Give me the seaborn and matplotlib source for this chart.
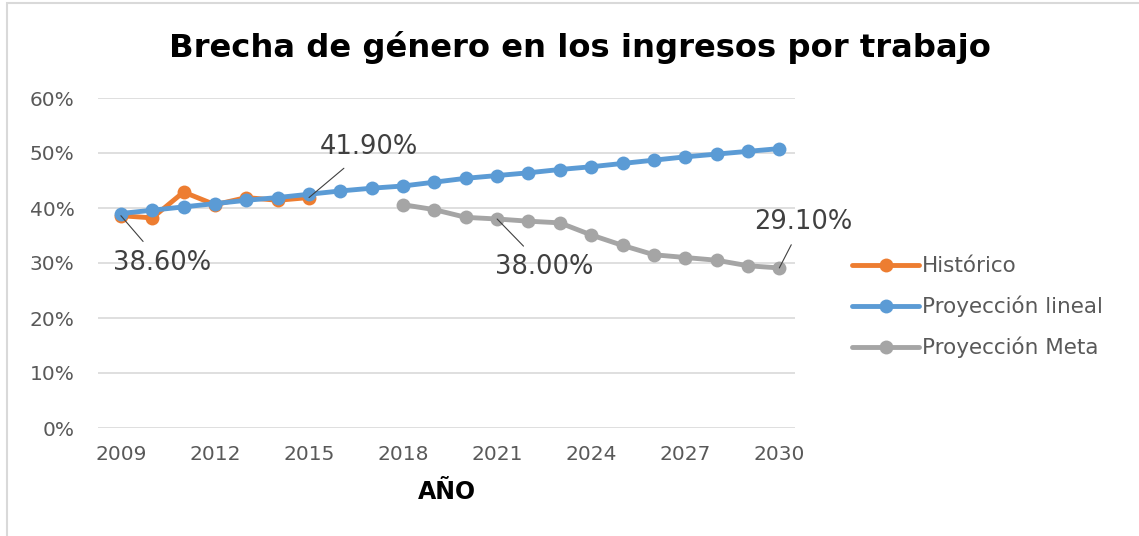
import numpy as np
import pandas as pd
import seaborn as sns
import matplotlib.pyplot as plt
from matplotlib.patches import Rectangle

# data (percent)
years_hist = [2009, 2010, 2011, 2012, 2013, 2014, 2015]
historico = [38.6, 38.2, 42.9, 40.6, 41.9, 41.4, 41.9]

years_lin = list(range(2009, 2031))
proy_lineal = [39.0, 39.6, 40.2, 40.8, 41.4, 41.9, 42.5, 43.1, 43.6, 44.0, 44.7,
               45.4, 45.9, 46.4, 47.0, 47.5, 48.1, 48.7, 49.3, 49.8, 50.3, 50.8]

years_meta = list(range(2018, 2031))
proy_meta = [40.6, 39.7, 38.3, 38.0, 37.6, 37.3, 35.1, 33.2, 31.5, 31.0, 30.5, 29.5, 29.1]

xticks = [2009, 2012, 2015, 2018, 2021, 2024, 2027, 2030]
yticks = [0, 10, 20, 30, 40, 50, 60]

c_hist = '#ED7D31'
c_lin = '#5B9BD5'
c_meta = '#A5A5A5'

sns.set_style('white')
plt.rcParams['font.family'] = ['DejaVu Sans']

fig = plt.figure(figsize=(11.39, 5.36), dpi=100)
ax = fig.add_axes([98 / 1139, 1 - 428 / 536, 697 / 1139, 330 / 536])

df_hist = pd.DataFrame({'year': years_hist, 'val': historico})
df_lin = pd.DataFrame({'year': years_lin, 'val': proy_lineal})
df_meta = pd.DataFrame({'year': years_meta, 'val': proy_meta})

kw = dict(marker='o', markersize=10, markeredgewidth=0, linewidth=3.5, ax=ax)
sns.lineplot(data=df_hist, x='year', y='val', color=c_hist, label='Histórico', **kw)
sns.lineplot(data=df_lin, x='year', y='val', color=c_lin, label='Proyección lineal', **kw)
sns.lineplot(data=df_meta, x='year', y='val', color=c_meta, label='Proyección Meta', **kw)

ax.set_xlim(2008.27, 2030.5)
ax.set_ylim(0, 60)
ax.set_xticks(xticks)
ax.set_yticks(yticks)
ax.set_yticklabels([f'{v}%' for v in yticks])
ax.tick_params(axis='both', length=0, labelsize=14.5, labelcolor='#595959')
ax.tick_params(axis='x', pad=12)
ax.tick_params(axis='y', pad=17)
for s in ax.spines.values():
    s.set_visible(False)
ax.grid(axis='y', color='#D9D9D9', linewidth=1.2)
ax.set_axisbelow(True)
ax.set_ylabel('')
ax.set_xlabel('AÑO', fontsize=17, fontweight='bold', color='black', labelpad=12)

# data labels with leader lines
def label(text, xy, xytext):
    ax.annotate(text, xy=xy, xytext=xytext, fontsize=18.5, color='#404040',
                ha='center', va='center',
                arrowprops=dict(arrowstyle='-', color='#404040', lw=0.8,
                                shrinkA=5, shrinkB=0))

label('38.60%', (2009, 38.6), (2010.3, 30.0))
label('41.90%', (2015, 41.9), (2016.9, 51.0))
label('38.00%', (2021, 38.0), (2022.5, 29.2))
label('29.10%', (2030, 29.1), (2030.75, 37.4))

leg = ax.legend(loc='upper left', bbox_to_anchor=(833 / 1139, 1 - 237 / 536),
                bbox_transform=fig.transFigure, frameon=False, fontsize=15.5,
                labelspacing=0.9, handlelength=3.1, handletextpad=0.15,
                labelcolor='#595959')

fig.text(580 / 1139, 1 - 47 / 536, 'Brecha de género en los ingresos por trabajo',
         ha='center', va='center', fontsize=23.2, fontweight='bold', color='black')

# chart frame
fig.patches.append(Rectangle((7 / 1139, -0.05), 1.1, 1 - 3 / 536 + 0.05,
                             transform=fig.transFigure, fill=False,
                             edgecolor='#D9D9D9', linewidth=1.5))

fig.savefig('out.png', dpi=100)
